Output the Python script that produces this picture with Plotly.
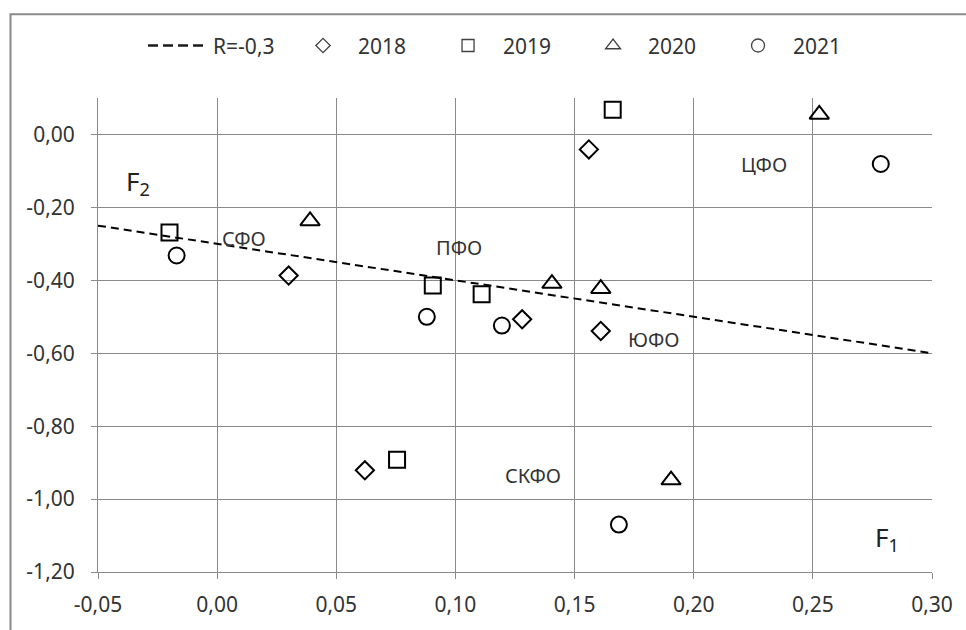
import plotly.graph_objects as go

# ---- data ----
years = ["2018", "2019", "2020", "2021"]
f1_2018 = [0.030, 0.062, 0.128, 0.156, 0.161]
f2_2018 = [-0.387, -0.921, -0.507, -0.041, -0.539]
f1_2019 = [-0.020, 0.0905, 0.111, 0.0755, 0.166]
f2_2019 = [-0.269, -0.414, -0.438, -0.892, 0.068]
f1_2020 = [0.039, 0.1405, 0.161, 0.2527, 0.1905]
f2_2020 = [-0.237, -0.409, -0.423, 0.055, -0.948]
f1_2021 = [-0.017, 0.088, 0.1195, 0.2785, 0.1686]
f2_2021 = [-0.332, -0.500, -0.524, -0.081, -1.070]

trend_name = "R=-0,3"
trend_x = [-0.05, 0.30]
trend_y = [-0.25, -0.60]

region_names = ["СФО", "ПФО", "ЦФО", "ЮФО", "СКФО"]
region_lx = [0.0112, 0.1014, 0.2297, 0.1834, 0.1324]
region_ly = [-0.284, -0.309, -0.083, -0.561, -0.936]

x_ticks = [-0.05, 0.00, 0.05, 0.10, 0.15, 0.20, 0.25, 0.30]
x_ticktext = ["-0,05", "0,00", "0,05", "0,10", "0,15", "0,20", "0,25", "0,30"]
y_ticks = [-1.2, -1.0, -0.8, -0.6, -0.4, -0.2, 0.0]
y_ticktext = ["-1,20", "-1,00", "-0,80", "-0,60", "-0,40", "-0,20", "0,00"]

FONT = "Noto Sans"
TXT = "#333333"
GRID = "#8a8a8a"

fig = go.Figure()

# plotted marks (legend entries are drawn by separate legend-only traces below)
fig.add_trace(go.Scatter(
    x=trend_x, y=trend_y, mode="lines", name=trend_name, showlegend=False,
    line=dict(color="black", width=2, dash="8px,5px"),
))

series = [
    (years[0], f1_2018, f2_2018, "diamond-open", 14, 11),
    (years[1], f1_2019, f2_2019, "square-open", 16, 12),
    (years[2], f1_2020, f2_2020, "triangle-up-open", 17, 13),
    (years[3], f1_2021, f2_2021, "circle-open", 16, 13),
]
for name, xs, ys, sym, sz, lsz in series:
    fig.add_trace(go.Scatter(
        x=xs, y=ys, mode="markers", name=name, showlegend=False,
        marker=dict(symbol=sym, size=sz, color="black",
                    line=dict(color="black", width=2)),
    ))

# legend entries (smaller, thinner symbols as in the reference legend)
fig.add_trace(go.Scatter(
    x=[None], y=[None], mode="lines", name=trend_name, showlegend=True,
    line=dict(color="#1a1a1a", width=2.5, dash="10px,5px"),
))
for name, xs, ys, sym, sz, lsz in series:
    fig.add_trace(go.Scatter(
        x=[None], y=[None], mode="markers", name=name, showlegend=True,
        marker=dict(symbol=sym, size=lsz, color="#404040",
                    line=dict(color="#404040", width=1.3)),
    ))

annotations = []
for nm, lx, ly in zip(region_names, region_lx, region_ly):
    annotations.append(dict(x=lx, y=ly, xref="x", yref="y", text=nm,
                            showarrow=False, xanchor="center", yanchor="middle",
                            font=dict(family=FONT, size=20, color=TXT)))
annotations.append(dict(x=-0.0393, y=-0.13, xref="x", yref="y", text="F<sub>2</sub>",
                        showarrow=False, xanchor="left", yanchor="middle",
                        font=dict(family=FONT, size=26, color="#222222")))
annotations.append(dict(x=0.2751, y=-1.108, xref="x", yref="y", text="F<sub>1</sub>",
                        showarrow=False, xanchor="left", yanchor="middle",
                        font=dict(family=FONT, size=26, color="#222222")))

fig.update_layout(
    width=966, height=630,
    margin=dict(l=98, r=34, t=98, b=54),
    paper_bgcolor="white", plot_bgcolor="white",
    font=dict(family=FONT, size=21, color=TXT),
    showlegend=True,
    legend=dict(orientation="h", x=0.054, xanchor="left", y=1.11, yanchor="middle",
                itemwidth=60, entrywidth=70, entrywidthmode="pixels",
                font=dict(family=FONT, size=21, color=TXT),
                bgcolor="rgba(0,0,0,0)", traceorder="normal"),
    annotations=annotations,
    shapes=[dict(type="rect", xref="paper", yref="paper",
                 x0=-0.1049, x1=1.06, y0=-0.15, y1=1.1766,
                 line=dict(color="#8a8a8a", width=2), layer="below")],
)

fig.update_xaxes(range=[-0.05, 0.30], tickvals=x_ticks, ticktext=x_ticktext,
                 showgrid=True, gridcolor=GRID, gridwidth=1,
                 showline=True, linecolor=GRID, linewidth=1,
                 ticks="outside", ticklen=6, tickcolor=GRID,
                 ticklabelstandoff=8, zeroline=False,
                 tickfont=dict(family=FONT, size=21, color=TXT))
fig.update_yaxes(range=[-1.2, 0.1], tickvals=y_ticks, ticktext=y_ticktext,
                 showgrid=True, gridcolor=GRID, gridwidth=1,
                 showline=True, linecolor=GRID, linewidth=1,
                 ticks="outside", ticklen=6, tickcolor=GRID,
                 ticklabelstandoff=12, zeroline=False,
                 tickfont=dict(family=FONT, size=21, color=TXT))

fig.write_html("out.html")
